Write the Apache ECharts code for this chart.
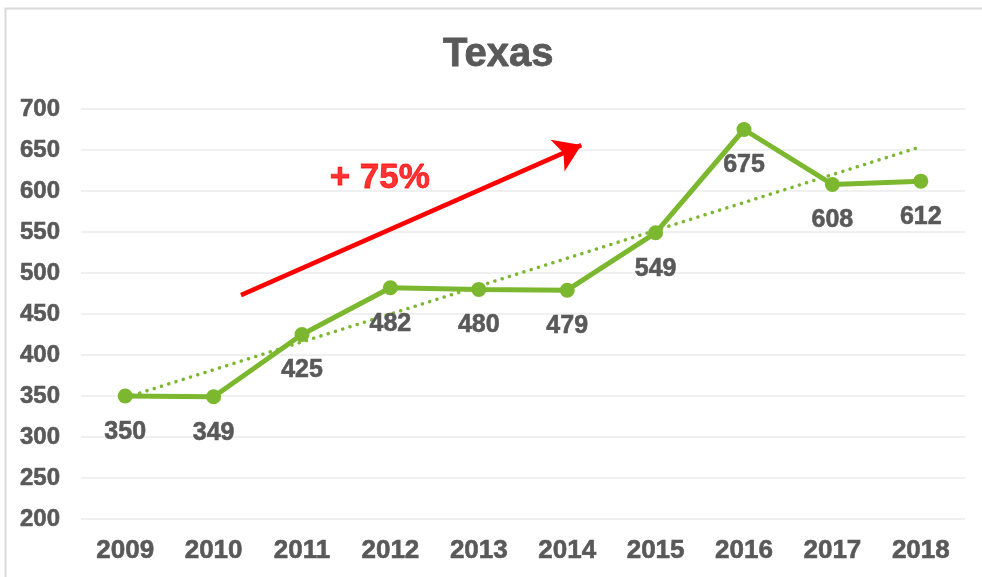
<!DOCTYPE html>
<html>
<head>
<meta charset="utf-8">
<script src="https://cdn.jsdelivr.net/npm/echarts@6/dist/echarts.min.js"></script>
<style>html,body{margin:0;padding:0;background:#fff}#c{width:982px;height:577px}</style>
</head>
<body>
<div id="c"></div>
<script>
var years = ['2009','2010','2011','2012','2013','2014','2015','2016','2017','2018'];
var values = [350, 349, 425, 482, 480, 479, 549, 675, 608, 612];
var trendStart = 348;   // (trendline at 2009)
var trendEnd = 654;     // (trendline at 2018)
var arrowFrom = [1.31, 473];
var arrowTo = [5.16, 656];
var noteText = '+ 75%';
var notePos = [2.88, 616];
var yTicks = {min: 200, max: 700, interval: 50};

var green = '#7cb82f';
var gray = '#595959';
var font = '"Liberation Sans", Arial, sans-serif';

var chart = echarts.init(document.getElementById('c'), null, {renderer: 'canvas'});
chart.setOption({
  animation: false,
  backgroundColor: '#fff',
  title: {
    text: 'Texas', left: 443, top: 35, padding: 0,
    textStyle: {fontFamily: font, fontSize: 40, fontWeight: 'bold', color: gray,
      textBorderColor: gray, textBorderWidth: 0.8}
  },
  graphic: [{
    type: 'rect', left: 3, top: 6, silent: true,
    shape: {width: 1000, height: 600},
    style: {fill: 'none', stroke: '#d9d9d9', lineWidth: 2}
  }],
  grid: {left: 81, right: 17, top: 109, bottom: 58, containLabel: false},
  xAxis: [{
    type: 'category', data: years, boundaryGap: true,
    axisLine: {show: false}, axisTick: {show: false},
    axisLabel: {fontFamily: font, fontSize: 26, fontWeight: 'bold', color: gray, margin: 19,
      textBorderColor: gray, textBorderWidth: 0.6}
  }, {
    type: 'value', min: -0.5, max: 9.5, show: false
  }],
  yAxis: {
    type: 'value', min: yTicks.min, max: yTicks.max, interval: yTicks.interval,
    axisLine: {show: false}, axisTick: {show: false},
    axisLabel: {fontFamily: font, fontSize: 24, fontWeight: 'bold', color: gray, margin: 21,
      textBorderColor: gray, textBorderWidth: 0.6},
    splitLine: {lineStyle: {color: '#ebebeb', width: 1.5}}
  },
  series: [{
    type: 'line', xAxisIndex: 1, data: [[0, trendStart], [9, trendEnd]],
    symbol: 'none', silent: true, z: 1,
    lineStyle: {color: green, width: 3.5, type: [0.1, 7.5], cap: 'round'}
  }, {
    type: 'line', xAxisIndex: 0, data: values, z: 3,
    symbol: 'circle', symbolSize: 15,
    itemStyle: {color: green},
    lineStyle: {color: green, width: 5},
    label: {show: true, position: 'bottom', distance: 16,
      fontFamily: font, fontSize: 25, fontWeight: 'bold', color: gray,
      textBorderColor: gray, textBorderWidth: 0.6}
  }, {
    type: 'line', xAxisIndex: 1, data: [], silent: true,
    markLine: {
      silent: true, symbol: ['none', 'arrow'], symbolSize: [26, 26],
      label: {show: false},
      lineStyle: {color: '#ff0000', width: 4.5, type: 'solid'},
      data: [[{coord: arrowFrom}, {coord: arrowTo}]]
    }
  }, {
    type: 'scatter', xAxisIndex: 1, data: [notePos], symbolSize: 0, silent: true,
    label: {show: true, position: 'inside', formatter: noteText,
      fontFamily: font, fontSize: 35, fontWeight: 'bold', color: '#ff0000',
      textBorderColor: '#ff0000', textBorderWidth: 0.8}
  }]
});
</script>
</body>
</html>
